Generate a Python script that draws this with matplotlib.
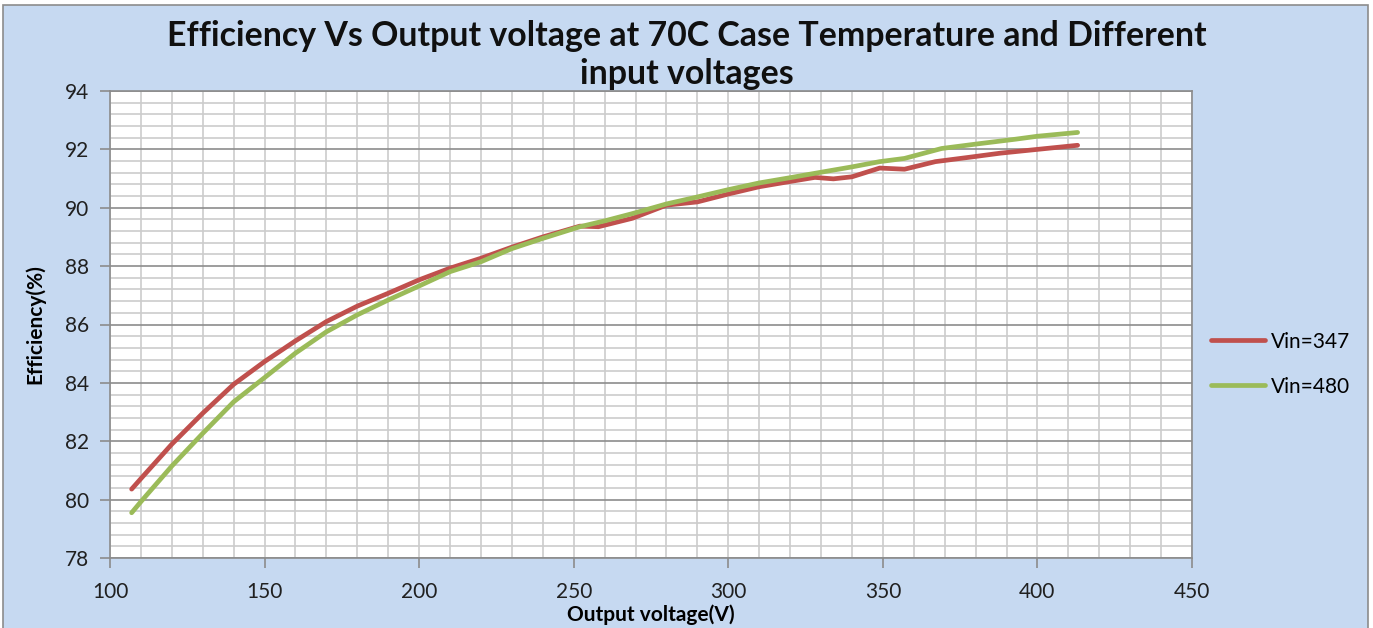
import numpy as np
import matplotlib
matplotlib.use("Agg")
import matplotlib.pyplot as plt
from matplotlib.ticker import MultipleLocator
from matplotlib.patches import Rectangle

# values
vout_347 = [107, 110, 120, 130, 140, 150, 160, 170, 180, 190, 200, 210, 220, 230,
            240, 252, 258, 269, 280, 290, 300, 310, 320, 328, 334, 340, 349, 357,
            367, 378, 388, 400, 413]
eff_347 = [80.36, 80.72, 81.90, 82.96, 83.95, 84.73, 85.44, 86.10, 86.63, 87.07,
           87.53, 87.93, 88.27, 88.65, 89.00, 89.37, 89.35, 89.64, 90.09, 90.20,
           90.47, 90.72, 90.90, 91.04, 90.99, 91.06, 91.36, 91.32, 91.58, 91.73,
           91.87, 92.00, 92.14]

vout_480 = [107, 110, 120, 130, 140, 150, 160, 170, 180, 190, 200, 210, 220, 230,
            240, 252, 260, 269, 280, 290, 300, 310, 320, 328, 340, 349, 357, 369,
            380, 393, 400, 413]
eff_480 = [79.55, 79.93, 81.15, 82.27, 83.35, 84.18, 85.02, 85.75, 86.33, 86.84,
           87.32, 87.81, 88.15, 88.60, 88.95, 89.35, 89.55, 89.80, 90.13, 90.37,
           90.62, 90.85, 91.03, 91.18, 91.40, 91.58, 91.69, 92.03, 92.18, 92.35,
           92.45, 92.58]

labels = ["Vin=347", "Vin=480"]
colors = ["#c0504d", "#9bbb59"]

plt.rcParams['font.family'] = ["Lato", "DejaVu Sans"]

bg = "#c6d9f1"
fig = plt.figure(figsize=(13.73, 6.28), dpi=100, facecolor="white")
fig.patches.append(Rectangle((3 / 1373, -0.01), 1365 / 1373, 1 - 5 / 628 + 0.01,
                             transform=fig.transFigure, facecolor=bg,
                             edgecolor="#8c8c8c", linewidth=1.2, zorder=-10))

ax = fig.add_axes([110 / 1373, 1 - 558 / 628, 1082 / 1373, 467 / 628])
ax.set_facecolor("white")

ax.plot(vout_347, eff_347, color=colors[0], lw=3.4, label=labels[0],
        solid_capstyle="round", solid_joinstyle="round", zorder=3)
ax.plot(vout_480, eff_480, color=colors[1], lw=3.4, label=labels[1],
        solid_capstyle="round", solid_joinstyle="round", zorder=3)

ax.set_xlim(100, 450)
ax.set_ylim(78, 94)
ax.xaxis.set_major_locator(MultipleLocator(50))
ax.xaxis.set_minor_locator(MultipleLocator(10))
ax.yaxis.set_major_locator(MultipleLocator(2))
ax.yaxis.set_minor_locator(MultipleLocator(0.4))

ax.grid(which="minor", axis="both", color="#cccccc", lw=1.2)
ax.grid(which="major", axis="x", color="#cccccc", lw=1.2)
ax.grid(which="major", axis="y", color="#8c8c8c", lw=1.2)
ax.set_axisbelow(True)

for s in ax.spines.values():
    s.set_color("#8c8c8c")
    s.set_linewidth(1.2)

ax.tick_params(which="major", length=7, width=1.2, color="#8c8c8c",
               labelsize=15, labelcolor="#202020")
ax.tick_params(which="minor", length=0)
ax.tick_params(axis="x", pad=10)
ax.tick_params(axis="y", pad=8)

ax.set_xlabel("Output voltage(V)", fontsize=15, fontweight="bold", labelpad=2)
ax.set_ylabel("Efficiency(%)", fontsize=15, fontweight="bold", labelpad=14)

fig.text(0.5, 1 - 55 / 628,
         "Efficiency Vs Output voltage at 70C Case Temperature and Different\ninput voltages",
         ha="center", va="center", fontsize=24.4, fontweight="bold",
         linespacing=1.2, color="#101010")

leg = ax.legend(loc="center left", bbox_to_anchor=(1.0, 0.415), frameon=False,
                fontsize=15, handlelength=2.6, labelspacing=1.2,
                handletextpad=0.3, borderaxespad=0.5)

fig.savefig("out.png", dpi=100, facecolor="white")
